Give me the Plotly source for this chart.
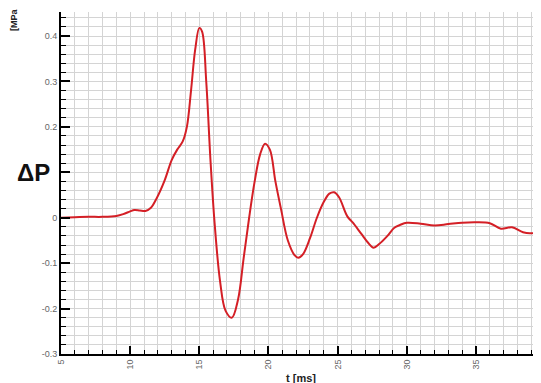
import plotly.graph_objects as go

# time [ms]
t_ms = [5, 6, 7, 8, 9, 9.5, 10, 10.3, 10.7, 11.1, 11.5, 11.9, 12.5, 13.0, 13.4, 13.8,
        14.1, 14.4, 14.7, 15.0, 15.2, 15.5, 15.8, 16.1, 16.5, 16.9, 17.35, 17.8, 18.2,
        18.6, 19.0, 19.4, 19.75, 20.1, 20.5, 20.9, 21.4, 21.9, 22.15, 22.5, 23.0, 23.5,
        24.0, 24.4, 24.75, 25.1, 25.7, 26.1, 26.7, 27.2, 27.6, 28.0, 28.6, 29.1, 29.5,
        30, 31, 32, 33, 34, 35, 36, 36.8, 37.6, 38.4, 39.0, 39.7]
# pressure difference [MPa]
dp_mpa = [0.0, 0.001, 0.002, 0.002, 0.004, 0.008, 0.014, 0.017, 0.016, 0.015, 0.022, 0.042,
          0.083, 0.127, 0.15, 0.168, 0.2, 0.28, 0.37, 0.418, 0.41, 0.3, 0.13, -0.01,
          -0.14, -0.205, -0.22, -0.18, -0.09, 0.0, 0.08, 0.14, 0.163, 0.15, 0.08, 0.02,
          -0.05, -0.083, -0.088, -0.08, -0.045, 0.0, 0.035, 0.053, 0.056, 0.045, 0.003,
          -0.011, -0.035, -0.055, -0.066, -0.058, -0.04, -0.022, -0.016, -0.011, -0.013,
          -0.017, -0.014, -0.011, -0.01, -0.012, -0.024, -0.021, -0.032, -0.034, -0.028]

x_ticks = [5, 10, 15, 20, 25, 30, 35]
x_labels = ["5", "10", "15", "20", "25", "30", "35"]
y_ticks = [-0.3, -0.2, -0.1, 0, 0.1, 0.2, 0.3, 0.4]
y_labels = ["-0.3", "-0.2", "-0.1", "0", "", "0.2", "0.3", "0.4"]

grid = "#d4d4d4"
fig = go.Figure(go.Scatter(x=t_ms, y=dp_mpa, mode="lines", line_shape="spline",
                           line=dict(color="#d41f26", width=2), hoverinfo="skip"))

# page body has an 8px margin: margins below compensate so the plot sits where the reference's does
fig.update_layout(
    width=541, height=383,
    margin=dict(l=53, r=8, t=4, b=37),
    paper_bgcolor="white", plot_bgcolor="white",
    showlegend=False,
    font=dict(family="Liberation Sans, Arial, sans-serif", color="#666666", size=9),
)
fig.update_xaxes(
    range=[5, 39.7], tickvals=x_ticks, ticktext=x_labels, tickangle=-90,
    showline=True, linecolor="black", linewidth=2,
    ticks="inside", ticklen=8, tickwidth=2, tickcolor="black",
    showgrid=True, gridcolor=grid, gridwidth=1, zeroline=False,
    minor=dict(dtick=1, tick0=5, ticks="inside", ticklen=4, tickwidth=1, tickcolor="black",
               showgrid=True, gridcolor=grid, gridwidth=1),
)
fig.update_yaxes(
    range=[-0.3, 0.453], tickvals=y_ticks, ticktext=y_labels,
    showline=True, linecolor="black", linewidth=2,
    ticks="inside", ticklen=9, tickwidth=2, tickcolor="black",
    showgrid=True, gridcolor=grid, gridwidth=1, zeroline=False,
    minor=dict(dtick=0.02, tick0=0, ticks="inside", ticklen=5, tickwidth=1, tickcolor="black",
               showgrid=True, gridcolor=grid, gridwidth=1),
)
fig.add_annotation(text="<b>t [ms]</b>", xref="paper", yref="paper", x=0.5, y=0,
                   xanchor="center", yanchor="middle", yshift=-24, showarrow=False,
                   font=dict(size=11, color="#222222"))
fig.add_annotation(text="<b>[MPa</b>", xref="paper", yref="paper", x=0, xshift=-47,
                   y=1, yshift=-8, xanchor="center", yanchor="middle", textangle=-90,
                   showarrow=False, font=dict(size=9, color="#222222"))
fig.add_annotation(text="<b>ΔP</b>", xref="paper", x=0, xshift=-28, y=0.1, yref="y",
                   xanchor="center", yanchor="middle", showarrow=False,
                   font=dict(size=24, color="#111111"))

fig.write_html("out.html")
